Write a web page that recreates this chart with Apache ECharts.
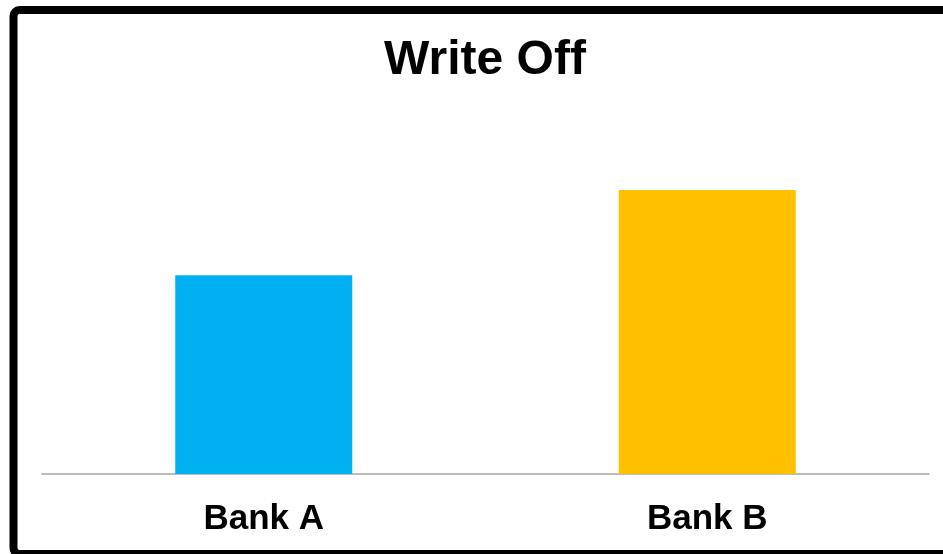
<!DOCTYPE html>
<html>
<head>
<meta charset="utf-8">
<script src="https://cdn.jsdelivr.net/npm/echarts@6/dist/echarts.min.js"></script>
<style>html,body{margin:0;padding:0;background:#fff;}#c{width:943px;height:554px;}</style>
</head>
<body>
<div id="c"></div>
<script>
const titleText = 'Write Off';
const categories = ['Bank A', 'Bank B'];
const values = [7, 10];
const barColors = ['#00B0F0', '#FFC000'];

const chart = echarts.init(document.getElementById('c'), null, {renderer: 'canvas'});
chart.setOption({
  animation: false,
  backgroundColor: '#fff',
  title: {
    text: titleText,
    left: 480,
    textAlign: 'center',
    top: 32,
    textStyle: {fontFamily: 'Liberation Sans, Arial, sans-serif', fontWeight: 'bold', fontSize: 48, color: '#000'}
  },
  grid: {left: 42, right: 14, top: 190, bottom: 80, containLabel: false},
  xAxis: {
    type: 'category',
    data: categories,
    axisLine: {lineStyle: {color: '#a6a6a6', width: 1.5}},
    axisTick: {show: false},
    axisLabel: {margin: 28, fontFamily: 'Liberation Sans, Arial, sans-serif', fontWeight: 'bold', fontSize: 35, color: '#000'}
  },
  yAxis: {type: 'value', min: 0, max: 10, show: false, splitLine: {show: false}},
  series: [{
    type: 'bar',
    barWidth: 177,
    data: values.map((v, i) => ({value: v, itemStyle: {color: barColors[i]}}))
  }],
  graphic: [{
    type: 'rect',
    shape: {x: 13.5, y: 10, width: 960, height: 544, r: 6},
    style: {fill: 'none', stroke: '#000', lineWidth: 8},
    z: 100
  }]
});
</script>
</body>
</html>
